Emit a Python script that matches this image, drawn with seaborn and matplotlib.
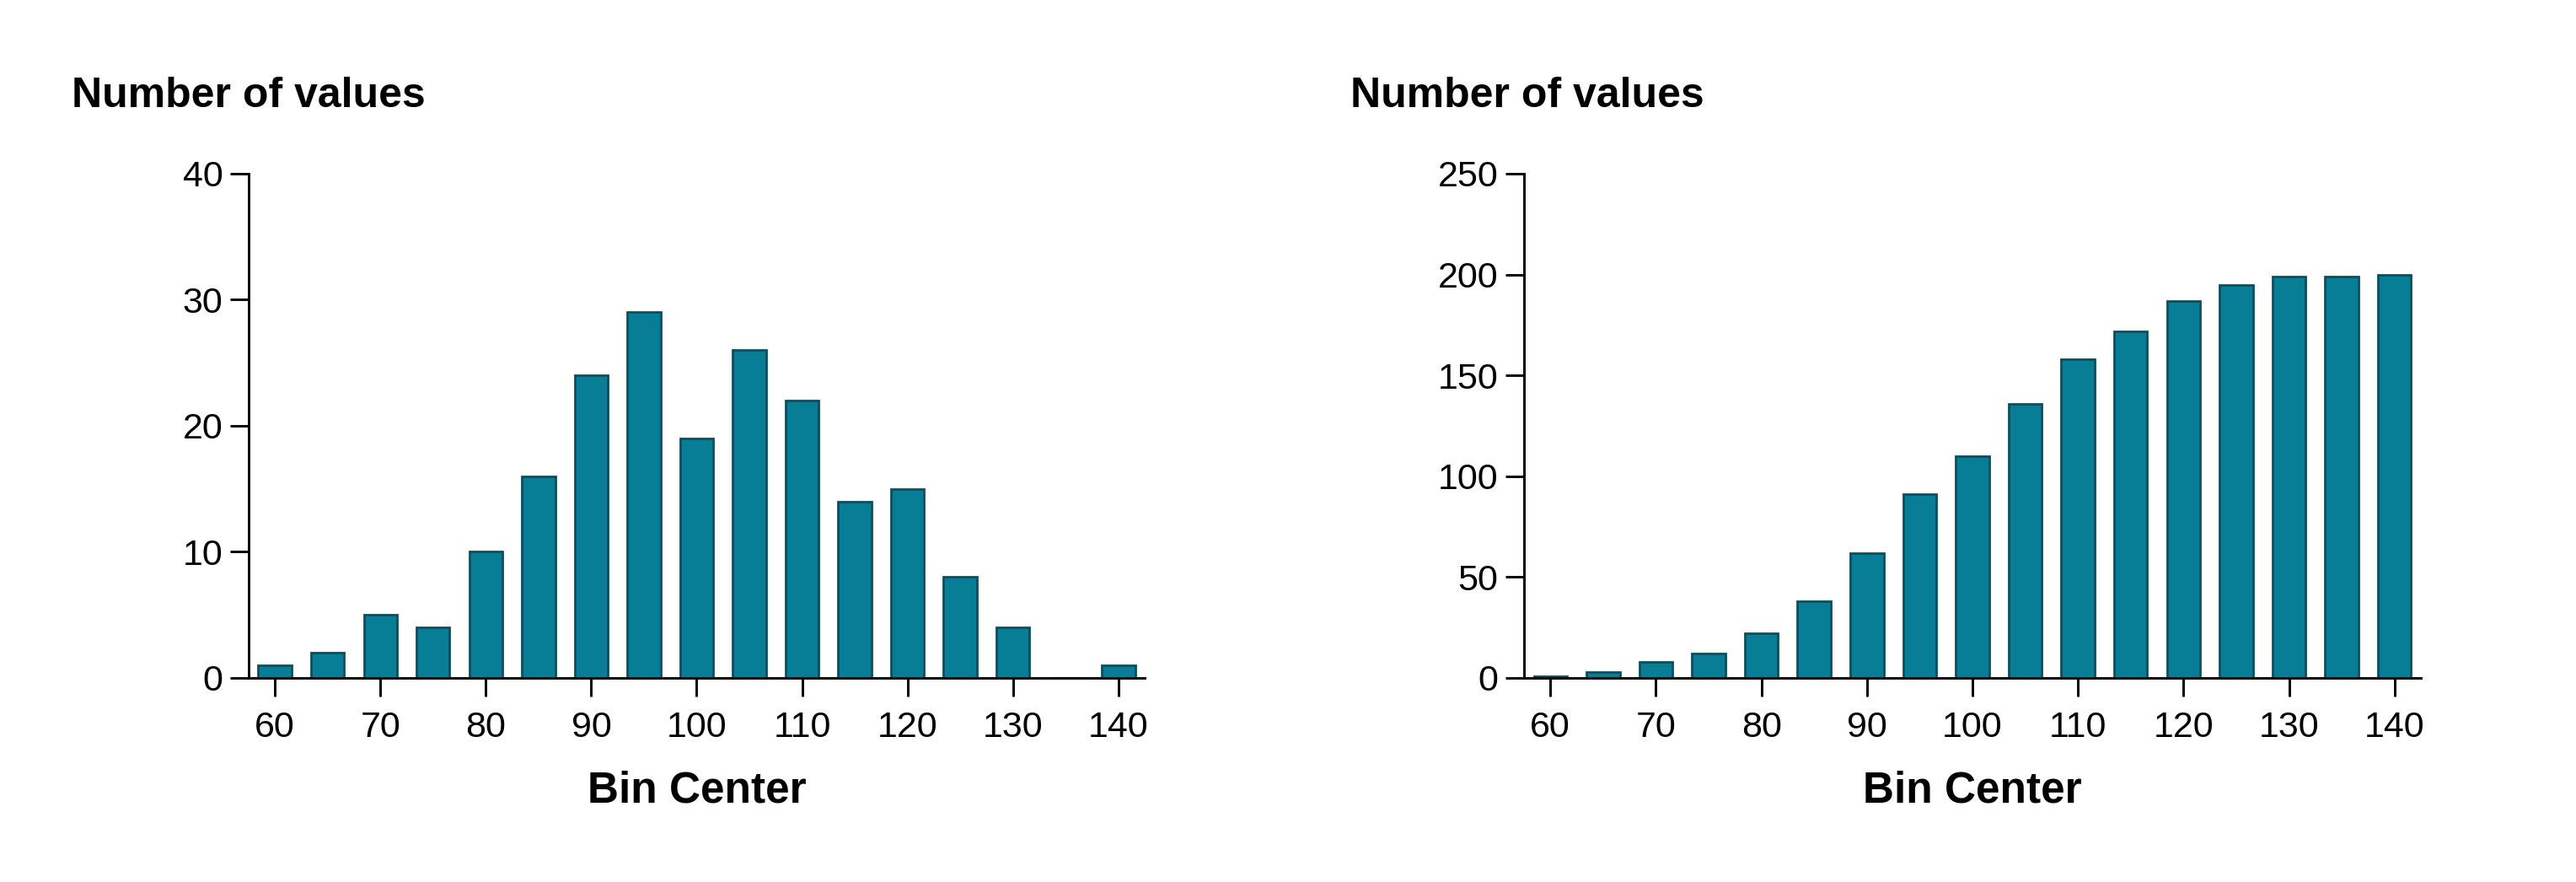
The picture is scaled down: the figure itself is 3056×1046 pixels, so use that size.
import numpy as np
import seaborn as sns
import matplotlib.pyplot as plt

# Bin centers and counts
bin_centers = [60, 65, 70, 75, 80, 85, 90, 95, 100, 105, 110, 115, 120, 125, 130, 135, 140]
counts = [1, 2, 5, 4, 10, 16, 24, 29, 19, 26, 22, 14, 15, 8, 4, 0, 1]
cumulative = list(np.cumsum(counts))

x_ticks = [60, 70, 80, 90, 100, 110, 120, 130, 140]
left_yticks = [0, 10, 20, 30, 40]
right_yticks = [0, 50, 100, 150, 200, 250]

bar_color = "#087D96"
edge_color = "#0B4F5E"

sns.set_theme(style="ticks")
plt.rcParams["font.family"] = ["Liberation Sans", "DejaVu Sans"]
plt.rcParams["text.color"] = "black"
plt.rcParams["axes.labelcolor"] = "black"

fig = plt.figure(figsize=(30.56, 10.46), dpi=100)
ax1 = fig.add_axes([0.0965, 0.2314, 0.3479, 0.5717])
ax2 = fig.add_axes([0.5916, 0.2314, 0.3482, 0.5717])

panels = [
    (ax1, counts, left_yticks, 0.0278),
    (ax2, cumulative, right_yticks, 0.5242),
]

for ax, values, yticks, title_x in panels:
    sns.barplot(x=bin_centers, y=values, native_scale=True, width=0.63,
                color=bar_color, saturation=1, edgecolor=edge_color,
                linewidth=2, ax=ax)
    ax.set_xlim(57.5, 142.5)
    ax.set_ylim(yticks[0], yticks[-1])
    ax.set_xticks(x_ticks)
    ax.set_xticklabels([str(t) for t in x_ticks])
    ax.set_yticks(yticks)
    ax.set_yticklabels([str(t) for t in yticks])
    sns.despine(ax=ax)
    for side in ["left", "bottom"]:
        ax.spines[side].set_linewidth(2.1)
        ax.spines[side].set_color("black")
    ax.tick_params(axis="both", length=16, width=2.1, color="black",
                   labelsize=31, labelcolor="black")
    ax.tick_params(axis="y", pad=6)
    ax.tick_params(axis="x", pad=12)
    ax.set_xlabel("Bin Center", fontsize=37, fontweight="bold", labelpad=22)
    ax.set_ylabel("")
    fig.text(title_x, 0.891, "Number of values", fontsize=36,
             fontweight="bold", ha="left", va="center")

fig.savefig("out.png", dpi=100, facecolor="white")
